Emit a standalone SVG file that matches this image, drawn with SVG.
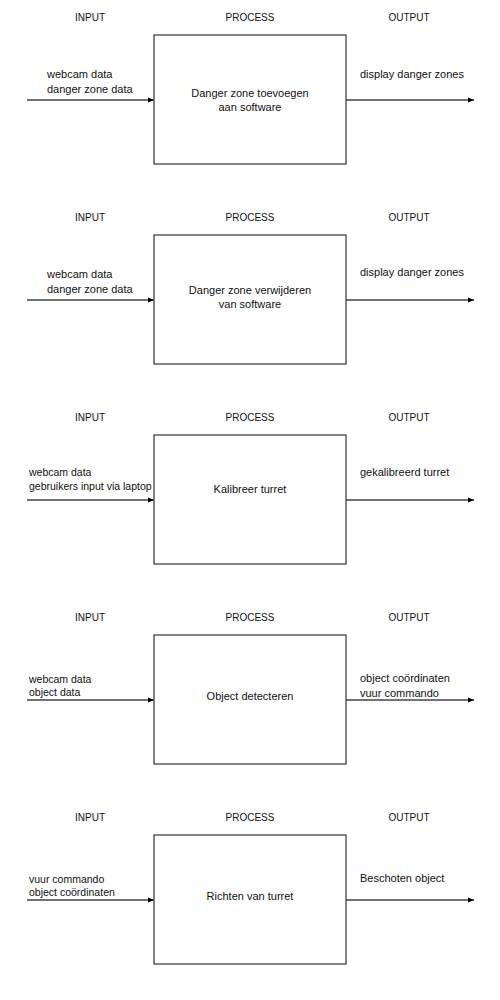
<svg xmlns="http://www.w3.org/2000/svg" width="500" height="1000" viewBox="0 0 500 1000">
<defs>
<marker id="arr" viewBox="0 0 6 6" refX="6" refY="3" markerWidth="6" markerHeight="6" markerUnits="userSpaceOnUse" orient="auto">
<path d="M0,0.5 L6,3 L0,5.5 Z" fill="#000"/>
</marker>
<style>
text{font-family:"Liberation Sans",Arial,sans-serif;fill:#111}
.h{font-size:10px;text-anchor:middle}
.t{font-size:11px}
.s{font-size:10.5px}
.c{font-size:11px;text-anchor:middle}
.box{fill:#fff;stroke:#333;stroke-width:1.2}
.ln{stroke:#444;stroke-width:1.3;fill:none;marker-end:url(#arr)}
</style>
</defs>
<rect width="500" height="1000" fill="#fff"/>
<g id="connectors">
<line class="ln" x1="27" y1="100" x2="154" y2="100"/>
<line class="ln" x1="346" y1="100" x2="474" y2="100"/>
<line class="ln" x1="27" y1="300" x2="154" y2="300"/>
<line class="ln" x1="346" y1="300" x2="474" y2="300"/>
<line class="ln" x1="27" y1="500" x2="154" y2="500"/>
<line class="ln" x1="346" y1="500" x2="474" y2="500"/>
<line class="ln" x1="27" y1="700" x2="154" y2="700"/>
<line class="ln" x1="346" y1="700" x2="474" y2="700"/>
<line class="ln" x1="27" y1="900" x2="154" y2="900"/>
<line class="ln" x1="346" y1="900" x2="474" y2="900"/>
</g>
<g id="block1">
<text class="h" x="90" y="21">INPUT</text>
<text class="h" x="250" y="21">PROCESS</text>
<text class="h" x="409" y="21">OUTPUT</text>
<rect class="box" x="154" y="35" width="192" height="129"/>
<text class="t" x="47" y="78">webcam data</text>
<text class="t" x="47" y="93">danger zone data</text>
<text class="c" x="250" y="97">Danger zone toevoegen</text>
<text class="c" x="250" y="111">aan software</text>
<text class="t" x="360" y="78">display danger zones</text>
</g>
<g id="block2">
<text class="h" x="90" y="221">INPUT</text>
<text class="h" x="250" y="221">PROCESS</text>
<text class="h" x="409" y="221">OUTPUT</text>
<rect class="box" x="154" y="235" width="192" height="129"/>
<text class="t" x="47" y="278">webcam data</text>
<text class="t" x="47" y="293">danger zone data</text>
<text class="c" x="250" y="294">Danger zone verwijderen</text>
<text class="c" x="250" y="308">van software</text>
<text class="t" x="360" y="276">display danger zones</text>
</g>
<g id="block3">
<text class="h" x="90" y="421">INPUT</text>
<text class="h" x="250" y="421">PROCESS</text>
<text class="h" x="409" y="421">OUTPUT</text>
<rect class="box" x="154" y="435" width="192" height="129"/>
<text class="s" x="29" y="476">webcam data</text>
<text class="s" x="29" y="490">gebruikers input via laptop</text>
<text class="c" x="250" y="493">Kalibreer turret</text>
<text class="t" x="360" y="476">gekalibreerd turret</text>
</g>
<g id="block4">
<text class="h" x="90" y="621">INPUT</text>
<text class="h" x="250" y="621">PROCESS</text>
<text class="h" x="409" y="621">OUTPUT</text>
<rect class="box" x="154" y="635" width="192" height="129"/>
<text class="s" x="29" y="683">webcam data</text>
<text class="s" x="29" y="696">object data</text>
<text class="c" x="250" y="700">Object detecteren</text>
<text class="t" x="360" y="682">object coördinaten</text>
<text class="t" x="360" y="697">vuur commando</text>
</g>
<g id="block5">
<text class="h" x="90" y="821">INPUT</text>
<text class="h" x="250" y="821">PROCESS</text>
<text class="h" x="409" y="821">OUTPUT</text>
<rect class="box" x="154" y="835" width="192" height="129"/>
<text class="s" x="29" y="883">vuur commando</text>
<text class="s" x="29" y="896">object coördinaten</text>
<text class="c" x="250" y="900">Richten van turret</text>
<text class="t" x="360" y="882">Beschoten object</text>
</g>
</svg>
